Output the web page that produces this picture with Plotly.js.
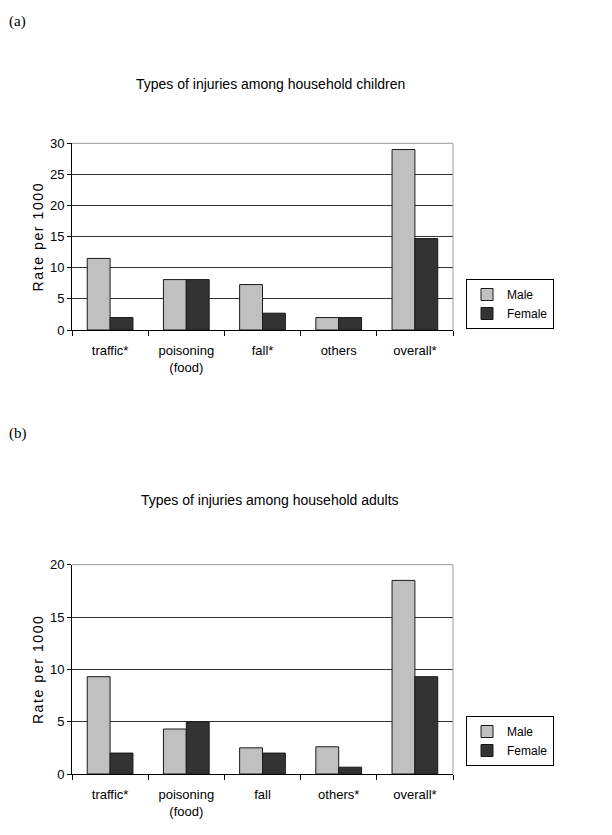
<!DOCTYPE html>
<html>
<head>
<meta charset="utf-8">
<script src="https://cdn.plot.ly/plotly-3.0.1.min.js"></script>
<style>
html, body { margin: 0; padding: 0; background: #fff; }
#chart { width: 612px; height: 835px; }
.ytitle, .y2title { letter-spacing: 1.6px; }
</style>
</head>
<body>
<div id="chart"></div>
<script>
// ---- data ----
const categoriesA = ['traffic*', 'poisoning<br>(food)', 'fall*', 'others', 'overall*'];
const maleA = [11.5, 8.1, 7.3, 2.0, 29.0];
const femaleA = [2.0, 8.1, 2.7, 2.0, 14.7];

const categoriesB = ['traffic*', 'poisoning<br>(food)', 'fall', 'others*', 'overall*'];
const maleB = [9.3, 4.3, 2.5, 2.6, 18.5];
const femaleB = [2.0, 5.0, 2.0, 0.65, 9.3];

const yTicksA = [0, 5, 10, 15, 20, 25, 30];
const yTicksB = [0, 5, 10, 15, 20];

const titleA = 'Types of injuries among household children';
const titleB = 'Types of injuries among household adults';
const yTitle = 'Rate per 1000';
const seriesNames = ['Male', 'Female'];

// ---- styling ----
const sans = '"Liberation Sans", Arial, sans-serif';
const maleColor = '#c0c0c0';
const femaleColor = '#333333';
const outline = {color: '#1a1a1a', width: 1};

const traces = [
  {type: 'bar', name: seriesNames[0], x: categoriesA, y: maleA, xaxis: 'x', yaxis: 'y',
   marker: {color: maleColor, line: outline}, legend: 'legend'},
  {type: 'bar', name: seriesNames[1], x: categoriesA, y: femaleA, xaxis: 'x', yaxis: 'y',
   marker: {color: femaleColor, line: outline}, legend: 'legend'},
  {type: 'bar', name: seriesNames[0], x: categoriesB, y: maleB, xaxis: 'x2', yaxis: 'y2',
   marker: {color: maleColor, line: outline}, legend: 'legend2'},
  {type: 'bar', name: seriesNames[1], x: categoriesB, y: femaleB, xaxis: 'x2', yaxis: 'y2',
   marker: {color: femaleColor, line: outline}, legend: 'legend2'}
];

const W = 612, H = 835;
const px = v => v / W;
const py = v => 1 - v / H;

function xAxis(anchor) {
  return {
    domain: [px(72), px(453)], anchor: anchor, type: 'category',
    showline: true, linecolor: '#000', linewidth: 1,
    ticks: 'outside', tickson: 'boundaries', ticklen: 5, tickcolor: '#000', tickwidth: 1,
    ticklabelstandoff: 8,
    tickfont: {family: sans, size: 13, color: '#000'},
    showgrid: false, fixedrange: true
  };
}
function yAxis(anchor, dom, ticks) {
  return {
    domain: dom, anchor: anchor, range: [0, ticks[ticks.length - 1]],
    tickvals: ticks, ticktext: ticks.map(String),
    showline: true, linecolor: '#000', linewidth: 1,
    ticks: 'outside', ticklen: 4, tickcolor: '#000',
    tickfont: {family: sans, size: 13, color: '#000'},
    showgrid: true, gridcolor: '#333', gridwidth: 1,
    zeroline: false,
    title: {text: yTitle, standoff: 3, font: {family: sans, size: 14, color: '#000'}},
    fixedrange: true
  };
}

const legendBase = {
  xanchor: 'left', yanchor: 'top', bgcolor: '#fff', bordercolor: '#000', borderwidth: 1,
  font: {family: sans, size: 12, color: '#000'}, itemwidth: 30, tracegroupgap: 0
};

function frame(xr, yr) {
  return [
    {type: 'line', xref: xr + ' domain', yref: yr + ' domain', x0: 0, x1: 1, y0: 1, y1: 1,
     line: {color: '#999', width: 1}, layer: 'above'},
    {type: 'line', xref: xr + ' domain', yref: yr + ' domain', x0: 1, x1: 1, y0: 0, y1: 1,
     line: {color: '#999', width: 1}, layer: 'above'}
  ];
}

const layout = {
  width: W, height: H,
  margin: {l: 0, r: 0, t: 0, b: 0},
  paper_bgcolor: '#fff', plot_bgcolor: '#fff',
  barmode: 'group', bargap: 0.40, bargroupgap: 0,
  xaxis: xAxis('y'),
  yaxis: yAxis('x', [py(330), py(143.3)], yTicksA),
  xaxis2: xAxis('y2'),
  yaxis2: yAxis('x2', [py(774), py(564.7)], yTicksB),
  legend: Object.assign({x: px(466), y: py(279)}, legendBase),
  legend2: Object.assign({x: px(466), y: py(716)}, legendBase),
  shapes: frame('x', 'y').concat(frame('x2', 'y2')),
  annotations: [
    {text: '(a)', xref: 'paper', yref: 'paper', x: px(7), y: py(21), xanchor: 'left', yanchor: 'middle',
     showarrow: false, font: {family: '"Liberation Serif", "Times New Roman", serif', size: 15, color: '#000'}},
    {text: '(b)', xref: 'paper', yref: 'paper', x: px(7), y: py(433), xanchor: 'left', yanchor: 'middle',
     showarrow: false, font: {family: '"Liberation Serif", "Times New Roman", serif', size: 15, color: '#000'}},
    {text: titleA, xref: 'paper', yref: 'paper', x: px(270), y: py(84), xanchor: 'center', yanchor: 'middle',
     showarrow: false, font: {family: sans, size: 14, color: '#000'}},
    {text: titleB, xref: 'paper', yref: 'paper', x: px(270), y: py(500), xanchor: 'center', yanchor: 'middle',
     showarrow: false, font: {family: sans, size: 14, color: '#000'}}
  ],
  showlegend: true
};

Plotly.newPlot('chart', traces, layout, {displayModeBar: false, staticPlot: true});
</script>
</body>
</html>
